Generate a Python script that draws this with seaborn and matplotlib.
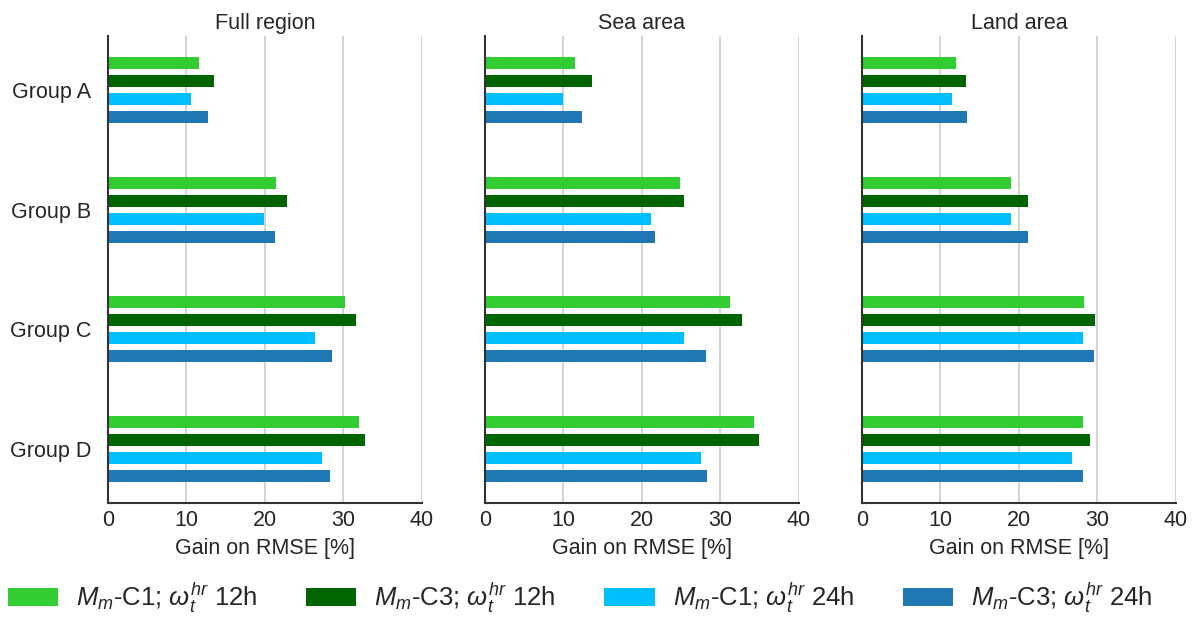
import pandas as pd
import seaborn as sns
from matplotlib import pyplot as plt

groups = ['Group A', 'Group B', 'Group C', 'Group D']
regions = ['Full region', 'Sea area', 'Land area']
models = [r'$M_m$-C1; $\omega_t^{hr}$ 12h', r'$M_m$-C3; $\omega_t^{hr}$ 12h',
          r'$M_m$-C1; $\omega_t^{hr}$ 24h', r'$M_m$-C3; $\omega_t^{hr}$ 24h']
colors = ['#32CD32', '#006400', '#00BFFF', '#1f77b4']

# gain per group, one list per model
full_c1_12 = [11.6, 21.4, 30.2, 32.0]
full_c3_12 = [13.5, 22.8, 31.6, 32.8]
full_c1_24 = [10.6, 19.9, 26.4, 27.3]
full_c3_24 = [12.7, 21.3, 28.6, 28.3]

sea_c1_12 = [11.5, 24.9, 31.2, 34.3]
sea_c3_12 = [13.6, 25.3, 32.8, 34.9]
sea_c1_24 = [10.0, 21.2, 25.3, 27.5]
sea_c3_24 = [12.4, 21.6, 28.1, 28.3]

land_c1_12 = [12.0, 19.0, 28.3, 28.1]
land_c3_12 = [13.3, 21.2, 29.7, 29.1]
land_c1_24 = [11.5, 19.0, 28.2, 26.8]
land_c3_24 = [13.4, 21.2, 29.6, 28.2]

values = {
    'Full region': [full_c1_12, full_c3_12, full_c1_24, full_c3_24],
    'Sea area': [sea_c1_12, sea_c3_12, sea_c1_24, sea_c3_24],
    'Land area': [land_c1_12, land_c3_12, land_c1_24, land_c3_24],
}

rows = []
for reg in regions:
    for m, vals in zip(models, values[reg]):
        for g, v in zip(groups, vals):
            rows.append({'region': reg, 'model': m, 'group': g, 'gain': v})
df = pd.DataFrame(rows)

sns.set_style('white')
plt.rcParams['font.family'] = ['Liberation Sans', 'DejaVu Sans']
plt.rcParams['mathtext.fontset'] = 'custom'
plt.rcParams['mathtext.rm'] = 'Liberation Sans'
plt.rcParams['mathtext.it'] = 'Liberation Sans:italic'
plt.rcParams['font.size'] = 15.5
plt.rcParams['text.color'] = '#262626'
plt.rcParams['xtick.color'] = '#262626'
plt.rcParams['ytick.color'] = '#262626'

fig = plt.figure(figsize=(11.96, 6.17), dpi=100)
lefts = [0.0903, 0.4055, 0.7207]
axes = []
for i, reg in enumerate(regions):
    ax = fig.add_axes([lefts[i], 0.1848, 0.2625, 0.7569])
    sub = df[df.region == reg]
    sns.barplot(data=sub, x='gain', y='group', hue='model', hue_order=models,
                order=groups, palette=colors, orient='h', width=0.6, gap=1/3,
                legend=(i == 0), ax=ax, saturation=1, linewidth=0)
    ax.set_xlim(0, 40)
    ax.set_ylim(3.45, -0.45)
    ax.set_xticks([0, 10, 20, 30, 40])
    ax.xaxis.grid(True, color='#cccccc', linewidth=1.2)
    ax.set_axisbelow(True)
    ax.set_title(reg, fontsize=15.5, pad=5)
    ax.set_xlabel('Gain on RMSE [%]', fontsize=15.5, labelpad=5)
    ax.set_ylabel('')
    ax.tick_params(axis='x', labelsize=15.5, length=0, pad=5)
    ax.tick_params(axis='y', labelsize=15.5, length=0, pad=12)
    for s in ['top', 'right']:
        ax.spines[s].set_visible(False)
    for s in ['left', 'bottom']:
        ax.spines[s].set_color('#333333')
        ax.spines[s].set_linewidth(1.5)
    if i > 0:
        ax.set_yticklabels([])
    axes.append(ax)

handles, labels = axes[0].get_legend_handles_labels()
axes[0].get_legend().remove()
fig.legend(handles, labels, loc='lower center', bbox_to_anchor=(0.485, -0.035),
           ncol=4, frameon=False, fontsize=18.5, handlelength=1.95,
           handleheight=0.7, handletextpad=0.7, columnspacing=1.9)

plt.savefig('out.png', dpi=100)
